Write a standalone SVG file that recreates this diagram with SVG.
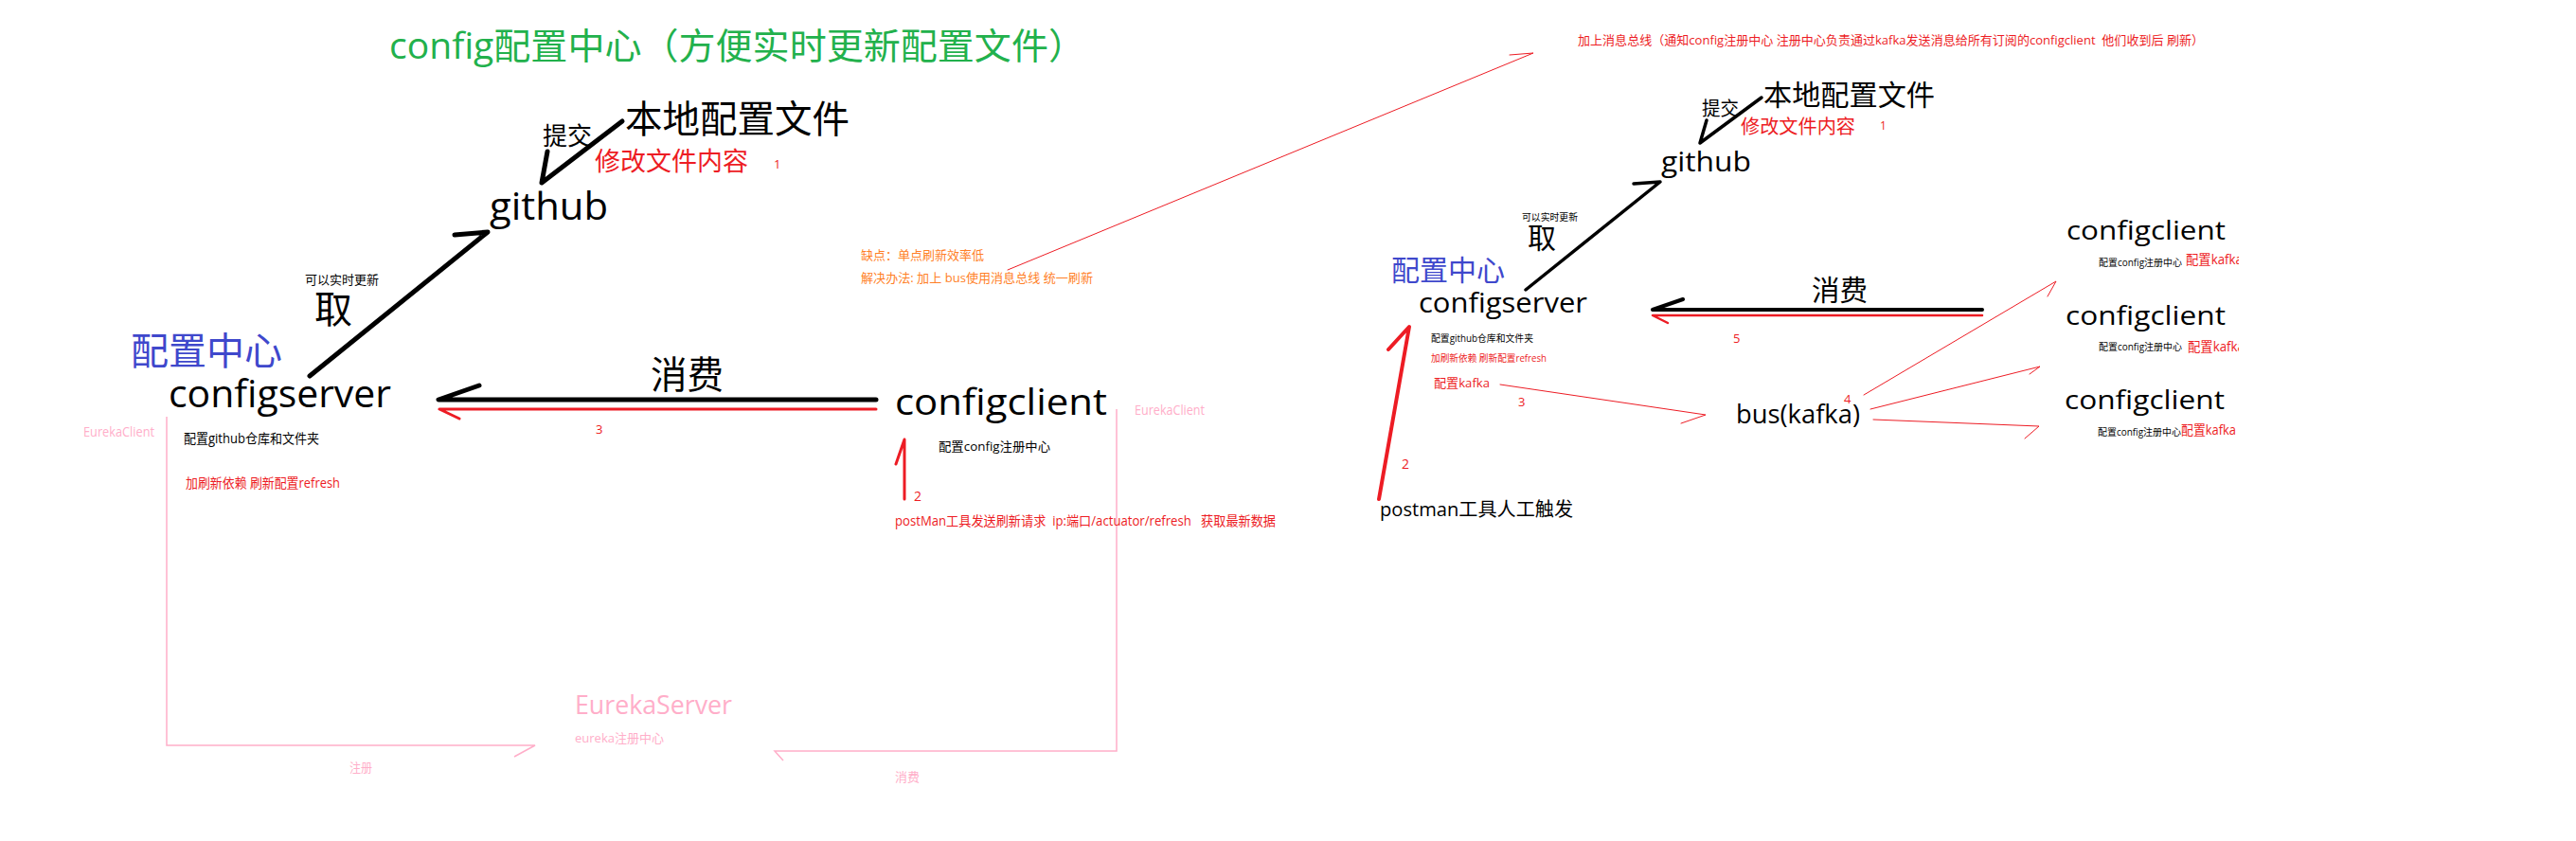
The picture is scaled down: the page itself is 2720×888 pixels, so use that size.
<svg xmlns="http://www.w3.org/2000/svg" width="2720" height="888" viewBox="0 0 2720 888">
<style>
text{font-family:"Open Sans","Noto Sans CJK SC",sans-serif;}
.k{fill:#000}.r{fill:#ed1c24}.p{fill:#ffaec9}.b{fill:#3f48cc}.o{fill:#ff7f27}.g{fill:#22b14c}
.bk{stroke:#000;fill:none;stroke-linecap:round;stroke-linejoin:round}
.rd{stroke:#ed1c24;fill:none;stroke-linecap:round;stroke-linejoin:round}
.pk{stroke:#ffaec9;fill:none;stroke-width:1.5}
</style>
<defs><clipPath id="cl"><rect x="0" y="0" width="2364" height="888"/></clipPath></defs>
<rect width="2720" height="888" fill="#fff"/>
<g id="connectors">
<polyline class="bk" stroke-width="5" points="578,160 572,193 657,128"/>
<polyline class="bk" stroke-width="5" points="480,248 515,245 327,397"/>
<polyline class="bk" stroke-width="5" points="506,407 463,422 925,422"/>
<polyline class="rd" stroke-width="3" points="485,442 464,432 925,432"/>
<polyline class="rd" stroke-width="3" points="946,490 955,464 955,527"/>
<polyline class="pk" points="176,440 176,787 565,787 543,799"/>
<polyline class="pk" points="1179,432 1179,793 818,793 827,803"/>
<polyline class="rd" stroke-width="1" points="1064,285 1619,56 1594,58"/>
<polyline class="bk" stroke-width="3.5" points="1802,127 1795,151 1860,103"/>
<polyline class="bk" stroke-width="3.5" points="1725,194 1753,192 1611,306"/>
<polyline class="bk" stroke-width="4" points="1777,316 1745,327 2093,327"/>
<polyline class="rd" stroke-width="2.5" points="1761,341 1745,333 2093,333"/>
<polyline class="rd" stroke-width="4" points="1466,369 1488,345 1456,527"/>
<polyline class="rd" stroke-width="1" points="1584,406 1801,438 1775,447"/>
<polyline class="rd" stroke-width="1" points="1968,417 2171,297 2162,313"/>
<polyline class="rd" stroke-width="1" points="1975,432 2154,387 2143,395"/>
<polyline class="rd" stroke-width="1" points="1978,443 2153,450 2138,463"/>
</g>
<g id="title"><text class="g" x="411" y="62" font-size="38" textLength="735" lengthAdjust="spacingAndGlyphs">config配置中心（方便实时更新配置文件）</text></g>
<g id="local1">
<text class="k" x="660" y="140" font-size="40" textLength="237" lengthAdjust="spacingAndGlyphs">本地配置文件</text>
<text class="k" x="573" y="153" font-size="26" textLength="52" lengthAdjust="spacingAndGlyphs">提交</text>
<text class="r" x="628" y="180" font-size="27" textLength="162" lengthAdjust="spacingAndGlyphs">修改文件内容</text>
<text class="r" x="817" y="178" font-size="13">1</text>
</g>
<g id="github1"><text class="k" x="517" y="232" font-size="40" textLength="125" lengthAdjust="spacingAndGlyphs">github</text></g>
<g id="configserver1">
<text class="k" x="322" y="300" font-size="13" textLength="78" lengthAdjust="spacingAndGlyphs">可以实时更新</text>
<text class="k" x="332" y="341" font-size="40">取</text>
<text class="b" x="138" y="385" font-size="40" textLength="160" lengthAdjust="spacingAndGlyphs">配置中心</text>
<text class="k" x="178" y="430" font-size="40" textLength="235" lengthAdjust="spacingAndGlyphs">configserver</text>
<text class="p" x="88" y="461" font-size="14" textLength="75" lengthAdjust="spacingAndGlyphs">EurekaClient</text>
<text class="k" x="194" y="468" font-size="14" textLength="143" lengthAdjust="spacingAndGlyphs">配置github仓库和文件夹</text>
<text class="r" x="196" y="515" font-size="14" textLength="163" lengthAdjust="spacingAndGlyphs">加刷新依赖 刷新配置refresh</text>
</g>
<g id="consume1">
<text class="k" x="687" y="410" font-size="40" textLength="77" lengthAdjust="spacingAndGlyphs">消费</text>
<text class="r" x="629" y="458" font-size="13">3</text>
</g>
<g id="configclient1">
<text class="k" x="945" y="438" font-size="38" textLength="224" lengthAdjust="spacingAndGlyphs">configclient</text>
<text class="k" x="991" y="476" font-size="13" textLength="118" lengthAdjust="spacingAndGlyphs">配置config注册中心</text>
<text class="p" x="1198" y="438" font-size="14" textLength="74" lengthAdjust="spacingAndGlyphs">EurekaClient</text>
<text class="r" x="965" y="529" font-size="14">2</text>
<text class="r" x="945" y="555" font-size="14" textLength="402" lengthAdjust="spacingAndGlyphs" xml:space="preserve">postMan工具发送刷新请求  ip:端口/actuator/refresh   获取最新数据</text>
</g>
<g id="eurekaserver">
<text class="p" x="607" y="754" font-size="28" textLength="166" lengthAdjust="spacingAndGlyphs">EurekaServer</text>
<text class="p" x="607" y="784" font-size="13" textLength="94" lengthAdjust="spacingAndGlyphs">eureka注册中心</text>
<text class="p" x="369" y="815" font-size="13" textLength="24" lengthAdjust="spacingAndGlyphs">注册</text>
<text class="p" x="945" y="825" font-size="13" textLength="26" lengthAdjust="spacingAndGlyphs">消费</text>
</g>
<g id="notes">
<text class="o" x="909" y="274" font-size="13" textLength="130" lengthAdjust="spacingAndGlyphs">缺点：单点刷新效率低</text>
<text class="o" x="909" y="298" font-size="13" textLength="245" lengthAdjust="spacingAndGlyphs">解决办法: 加上 bus使用消息总线 统一刷新</text>
<text class="r" x="1666" y="47" font-size="13" textLength="661" lengthAdjust="spacingAndGlyphs" xml:space="preserve">加上消息总线（通知config注册中心 注册中心负责通过kafka发送消息给所有订阅的configclient  他们收到后 刷新）</text>
</g>
<g id="local2">
<text class="k" x="1862" y="111" font-size="30" textLength="181" lengthAdjust="spacingAndGlyphs">本地配置文件</text>
<text class="k" x="1797" y="122" font-size="20" textLength="39" lengthAdjust="spacingAndGlyphs">提交</text>
<text class="r" x="1838" y="141" font-size="20" textLength="121" lengthAdjust="spacingAndGlyphs">修改文件内容</text>
<text class="r" x="1985" y="137" font-size="12">1</text>
</g>
<g id="github2"><text class="k" x="1754" y="181" font-size="30" textLength="95" lengthAdjust="spacingAndGlyphs">github</text></g>
<g id="configserver2">
<text class="k" x="1607" y="233" font-size="10" textLength="59" lengthAdjust="spacingAndGlyphs">可以实时更新</text>
<text class="k" x="1613" y="262" font-size="30">取</text>
<text class="b" x="1469" y="296" font-size="30" textLength="120" lengthAdjust="spacingAndGlyphs">配置中心</text>
<text class="k" x="1498" y="330" font-size="30" textLength="178" lengthAdjust="spacingAndGlyphs">configserver</text>
<text class="k" x="1511" y="361" font-size="10" textLength="108" lengthAdjust="spacingAndGlyphs">配置github仓库和文件夹</text>
<text class="r" x="1511" y="382" font-size="10" textLength="122" lengthAdjust="spacingAndGlyphs">加刷新依赖 刷新配置refresh</text>
<text class="r" x="1514" y="409" font-size="13" textLength="59" lengthAdjust="spacingAndGlyphs">配置kafka</text>
<text class="r" x="1603" y="429" font-size="13">3</text>
<text class="r" x="1830" y="362" font-size="13">5</text>
<text class="k" x="1913" y="317" font-size="30" textLength="59" lengthAdjust="spacingAndGlyphs">消费</text>
</g>
<g id="postman">
<text class="r" x="1480" y="495" font-size="14">2</text>
<text class="k" x="1457" y="545" font-size="20" textLength="204" lengthAdjust="spacingAndGlyphs">postman工具人工触发</text>
</g>
<g id="bus">
<text class="k" x="1833" y="447" font-size="27" textLength="131" lengthAdjust="spacingAndGlyphs">bus(kafka)</text>
<text class="r" x="1947" y="426" font-size="13">4</text>
</g>
<g id="configclient2">
<text class="k" x="2182" y="253" font-size="28" textLength="168" lengthAdjust="spacingAndGlyphs">configclient</text>
<text class="k" x="2216" y="281" font-size="10" textLength="88" lengthAdjust="spacingAndGlyphs">配置config注册中心</text>
<text class="r" x="2308" y="279" font-size="14" textLength="60" lengthAdjust="spacingAndGlyphs" clip-path="url(#cl)">配置kafka</text>
</g>
<g id="configclient3">
<text class="k" x="2181" y="343" font-size="28" textLength="169" lengthAdjust="spacingAndGlyphs">configclient</text>
<text class="k" x="2216" y="370" font-size="10" textLength="88" lengthAdjust="spacingAndGlyphs">配置config注册中心</text>
<text class="r" x="2310" y="371" font-size="14" textLength="60" lengthAdjust="spacingAndGlyphs" clip-path="url(#cl)">配置kafka</text>
</g>
<g id="configclient4">
<text class="k" x="2180" y="432" font-size="28" textLength="169" lengthAdjust="spacingAndGlyphs">configclient</text>
<text class="k" x="2215" y="460" font-size="10" textLength="88" lengthAdjust="spacingAndGlyphs">配置config注册中心</text>
<text class="r" x="2303" y="459" font-size="14" textLength="58" lengthAdjust="spacingAndGlyphs">配置kafka</text>
</g>
</svg>
